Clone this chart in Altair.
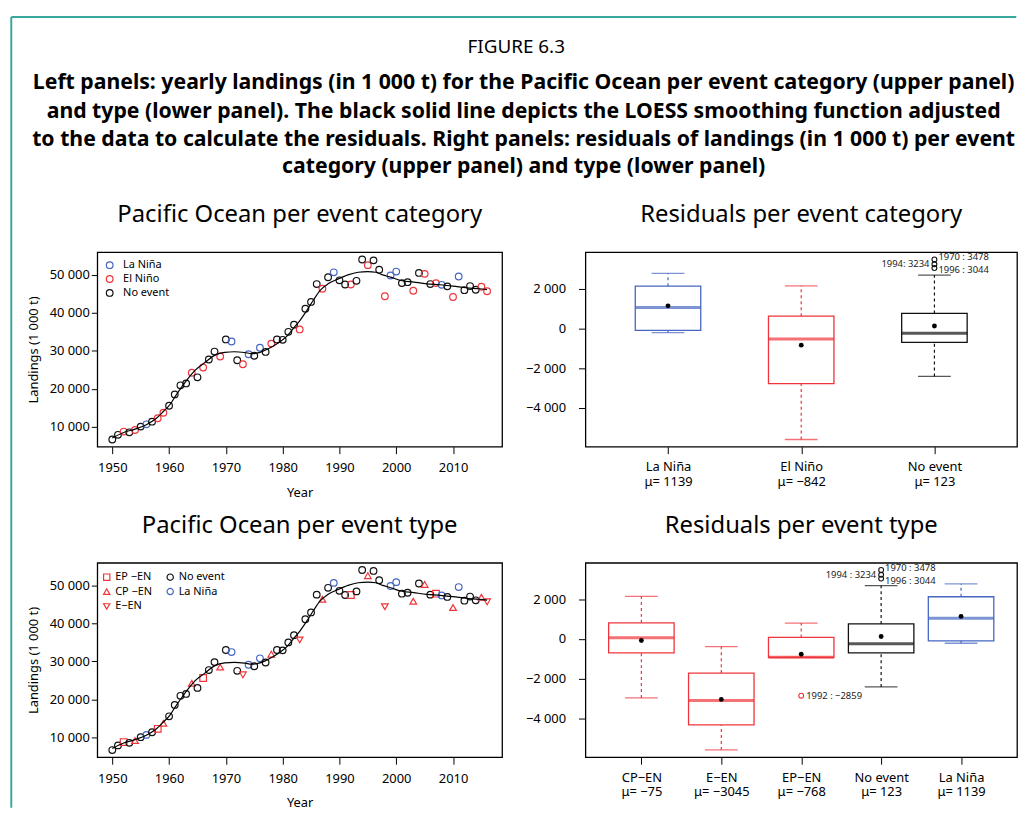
import altair as alt
import pandas as pd

FONT = "Noto Sans"
BLUE = "#4566c2"
RED = "#f0343a"
BLACK = "#111111"
TEAL = "#38a89d"

# ---------------- data ----------------
years = list(range(1950, 2017))
landings = [6600, 7830, 8700, 8500, 9100, 10000, 10600, 11300, 12200, 13650,
            15500, 18500, 20900, 21400, 24200, 23000, 25600, 27700, 29800, 28500,
            33000, 32450, 27500, 26450, 29100, 28700, 30800, 29700, 31900, 33000,
            32900, 35000, 36900, 35650, 41100, 42900, 47600, 46370, 49400, 50700,
            48600, 47500, 47500, 48460, 54100, 52600, 53860, 51400, 44400, 49870,
            50900, 47860, 48100, 45850, 50550, 50300, 47600, 47860, 47400, 47000,
            44200, 49600, 46000, 47080, 46100, 46900, 45700]

la_nina_years = [1956, 1971, 1974, 1976, 1989, 1999, 2000, 2008, 2011]
ep_en_years = [1952, 1958, 1966, 1992, 2007]
cp_en_years = [1954, 1959, 1964, 1969, 1978, 1987, 1995, 2003, 2005, 2010, 2015]
e_en_years = [1973, 1983, 1998, 2016]

loess_years = [1950, 1952, 1954, 1956, 1957.6, 1959, 1960.2, 1961.1, 1962.3, 1963.4,
               1964.6, 1966.3, 1968, 1969.8, 1971.5, 1973.3, 1974.6, 1976, 1977, 1978.2,
               1979.6, 1980.8, 1981.9, 1983.1, 1984.3, 1985.4, 1986.6, 1988, 1989.8, 1991.5,
               1993.3, 1995, 1996.4, 1997.6, 1999, 2000.8, 2003.1, 2005.4, 2007.7, 2010,
               2012.3, 2014.6, 2016]
loess_values = [7000, 8450, 9350, 10500, 12000, 14000, 15900, 18000, 20600, 22800,
                24900, 26900, 28800, 29600, 29750, 29550, 29250, 29600, 30200, 31150,
                32450, 33930, 35930, 38120, 40730, 43340, 45950, 47680, 48980, 50030,
                50730, 50900, 50730, 50030, 49430, 48560, 48120, 47680, 47420, 47080,
                46640, 46370, 46150]

# residual box statistics per event category
cat_names = ["La Niña", "El Niño", "No event"]
cat_means = [1139, -842, 123]
cat_low = [-215, -5600, -2420]
cat_q1 = [-95, -2780, -700]
cat_median = [1050, -530, -240]
cat_q3 = [2130, 620, 760]
cat_high = [2780, 2150, 2690]
cat_colors = [BLUE, RED, BLACK]

# residual box statistics per event type
type_names = ["CP−EN", "E−EN", "EP−EN", "No event", "La Niña"]
type_means = [-75, -3045, -768, 123, 1139]
type_low = [-2970, -5590, -930, -2420, -215]
type_q1 = [-700, -4335, -930, -700, -95]
type_median = [65, -3100, -920, -240, 1050]
type_q3 = [815, -1720, 80, 760, 2130]
type_high = [2150, -385, 800, 2690, 2780]
type_colors = [RED, RED, RED, BLACK, BLUE]

# outliers (group, value, label, where the label sits)
cat_out_group = ["No event", "No event", "No event"]
cat_out_value = [3478, 3234, 3044]
cat_out_text = ["1970 : 3478", "1994: 3234", "1996 : 3044"]
cat_out_side = ["up", "left", "down"]

type_out_group = ["No event", "No event", "No event", "EP−EN"]
type_out_value = [3478, 3234, 3044, -2859]
type_out_text = ["1970 : 3478", "1994 : 3234", "1996 : 3044", "1992 : −2859"]
type_out_side = ["up", "left", "down", "right"]

header_top = "FIGURE 6.3"
header_lines = [
    "Left panels: yearly landings (in 1 000 t) for the Pacific Ocean per event category (upper panel)",
    "and type (lower panel). The black solid line depicts the LOESS smoothing function adjusted",
    "to the data to calculate the residuals. Right panels: residuals of landings (in 1 000 t) per event",
    "category (upper panel) and type (lower panel)",
]

# ---------------- tables ----------------
def category_of(y):
    if y in la_nina_years:
        return "La Niña"
    if y in ep_en_years or y in cp_en_years or y in e_en_years:
        return "El Niño"
    return "No event"


def type_of(y):
    if y in la_nina_years:
        return "La Niña"
    if y in ep_en_years:
        return "EP −EN"
    if y in cp_en_years:
        return "CP −EN"
    if y in e_en_years:
        return "E−EN"
    return "No event"


df = pd.DataFrame({
    "year": years,
    "landings": landings,
    "category": [category_of(y) for y in years],
    "etype": [type_of(y) for y in years],
})
loess_df = pd.DataFrame({"year": loess_years, "landings": loess_values})

LAB = dict(labelFont=FONT, titleFont=FONT, labelColor="black", titleColor="black",
           tickColor="black", labelFontSize=13, titleFontSize=13,
           titleFontWeight="normal", grid=False, domain=False, labelOverlap=False,
           labelFlush=False)
THOUSANDS = "replace(format(datum.value, ','), ',', ' ')"
PANEL_VIEW = alt.ViewBackground(stroke="black", strokeWidth=1.3, fill="white")

x_left = alt.Scale(domain=[1947.36, 2018.64], nice=False, zero=False)
y_left = alt.Scale(domain=[4700, 56000], nice=False, zero=False)
x_left_axis = alt.Axis(values=[1950, 1960, 1970, 1980, 1990, 2000, 2010], format="d",
                       title="Year", tickSize=7, labelPadding=8, titlePadding=12, **LAB)
y_left_axis = alt.Axis(values=[10000, 20000, 30000, 40000, 50000], labelExpr=THOUSANDS,
                       title="Landings (1 000 t)", tickSize=6, labelPadding=2,
                       titlePadding=9, **LAB)


def panel_title(text):
    return alt.TitleParams(text, font=FONT, fontSize=24, fontWeight="normal",
                           color="black", anchor="middle", frame="group",
                           baseline="alphabetic", offset=6)


def left_panel(field, domain, colors, shapes, legend, title):
    enc = dict(
        x=alt.X("year:Q", scale=x_left, axis=x_left_axis),
        y=alt.Y("landings:Q", scale=y_left, axis=y_left_axis),
        color=alt.Color(f"{field}:N", scale=alt.Scale(domain=domain, range=colors),
                        legend=legend),
    )
    if shapes is not None:
        enc["shape"] = alt.Shape(f"{field}:N", scale=alt.Scale(domain=domain, range=shapes),
                                 legend=legend)
    pts = alt.Chart(df).mark_point(filled=False, size=45, strokeWidth=1.2,
                                   opacity=1).encode(**enc)
    line = alt.Chart(loess_df).mark_line(color="black", strokeWidth=1.2,
                                         interpolate="monotone").encode(
        x=alt.X("year:Q", scale=x_left, axis=x_left_axis),
        y=alt.Y("landings:Q", scale=y_left, axis=y_left_axis),
    )
    return alt.layer(pts, line).properties(width=408, height=196, title=panel_title(title),
                                           view=PANEL_VIEW)


def fmt_mean(v):
    return ("−" + str(-v)) if v < 0 else str(v)


y_right = alt.Scale(domain=[-5963, 3841], nice=False, zero=False)
y_right_axis = alt.Axis(values=[-4000, -2000, 0, 2000], labelExpr=THOUSANDS, title=None,
                        tickSize=7, labelPadding=13, **LAB)


def right_panel(names, means, low, q1, med, q3, high, colors, pad,
                out_group, out_value, out_text, out_side, title):
    labels = [f"{n}|μ= {fmt_mean(m)}" for n, m in zip(names, means)]
    lab_of = dict(zip(names, labels))
    st = pd.DataFrame({"label": labels, "mean": means, "low": low, "q1": q1,
                       "median": med, "q3": q3, "high": high})
    out = pd.DataFrame({"label": [lab_of[g] for g in out_group], "value": out_value,
                        "text": out_text, "side": out_side})
    xs = alt.Scale(type="point", domain=labels, padding=pad)
    x_axis = alt.Axis(labelExpr="split(datum.value, '|')", title=None, tickSize=7,
                      labelPadding=7, labelAngle=0, labelLineHeight=15,
                      labelBaseline="top", **LAB)
    x = alt.X("label:N", scale=xs, sort=labels, axis=x_axis)
    cs = alt.Scale(domain=labels, range=colors)
    col = alt.Color("label:N", scale=cs, legend=None)

    def Y(f):
        return alt.Y(f"{f}:Q", scale=y_right, axis=y_right_axis)

    whisk_hi = alt.Chart(st).mark_rule(strokeDash=[3, 3], strokeWidth=1.2).encode(
        x=x, y=Y("q3"), y2="high:Q", color=col)
    whisk_lo = alt.Chart(st).mark_rule(strokeDash=[3, 3], strokeWidth=1.2).encode(
        x=x, y=Y("low"), y2="q1:Q", color=col)
    box = alt.Chart(st).mark_bar(size=66, fill="white", fillOpacity=0,
                                 strokeWidth=1.3).encode(
        x=x, y=Y("q1"), y2="q3:Q", stroke=alt.Stroke("label:N", scale=cs, legend=None))
    cap_hi = alt.Chart(st).mark_tick(size=33, thickness=1.3).encode(
        x=x, y=Y("high"), color=col)
    cap_lo = alt.Chart(st).mark_tick(size=33, thickness=1.3).encode(
        x=x, y=Y("low"), color=col)
    median = alt.Chart(st).mark_tick(size=66, thickness=3).encode(
        x=x, y=Y("median"), color=col)
    mean = alt.Chart(st).mark_point(filled=True, size=24, color="black", opacity=1).encode(
        x=x, y=Y("mean"))
    opts = alt.Chart(out).mark_point(filled=False, size=24, strokeWidth=1.1,
                                     opacity=1).encode(
        x=x, y=Y("value"), color=col)
    layers = [whisk_hi, whisk_lo, box, cap_hi, cap_lo, median, mean, opts]
    for side, align, dx, dy in [("up", "left", 4, -2), ("down", "left", 4, 2),
                                ("right", "left", 5, 0), ("left", "right", -5, 0)]:
        layers.append(
            alt.Chart(out).transform_filter(f"datum.side == '{side}'").mark_text(
                align=align, baseline="middle", dx=dx, dy=dy, fontSize=9.5, font=FONT,
                color="#222").encode(x=x, y=Y("value"), text="text:N"))
    return alt.layer(*layers).properties(width=435, height=196,
                                         title=panel_title(title), view=PANEL_VIEW)


# ---------------- panels ----------------
ul_legend = alt.Legend(orient="none", legendX=7, legendY=7.5, title=None, labelFont=FONT,
                       labelFontSize=11, labelColor="black", symbolSize=45,
                       symbolStrokeWidth=1.2, rowPadding=1, labelOffset=8, padding=0)
ul = left_panel("category", ["La Niña", "El Niño", "No event"], [BLUE, RED, BLACK], None,
                ul_legend, "Pacific Ocean per event category")

ll_domain = ["EP −EN", "CP −EN", "E−EN", "No event", "La Niña"]
ll_legend = alt.Legend(orient="none", legendX=4, legendY=8.5, title=None, labelFont=FONT,
                       labelFontSize=11, labelColor="black", symbolSize=40,
                       symbolStrokeWidth=1.2, rowPadding=2, labelOffset=3, padding=0,
                       columns=2, columnPadding=11)
ll = left_panel("etype", ll_domain, [RED, RED, RED, BLACK, BLUE],
                ["square", "triangle-up", "triangle-down", "circle", "circle"],
                ll_legend, "Pacific Ocean per event type")

ur = right_panel(cat_names, cat_means, cat_low, cat_q1, cat_median, cat_q3, cat_high,
                 cat_colors, 0.62, cat_out_group, cat_out_value, cat_out_text, cat_out_side,
                 "Residuals per event category")
lr = right_panel(type_names, type_means, type_low, type_q1, type_median, type_q3, type_high,
                 type_colors, 0.7, type_out_group, type_out_value, type_out_text,
                 type_out_side, "Residuals per event type")

# ---------------- header (figure caption and frame) ----------------
one = alt.Data(values=[{"a": 1}])
header_layers = [
    alt.Chart(pd.DataFrame({"t": [header_top]})).mark_text(
        font=FONT, fontSize=19, align="center", baseline="alphabetic", color="black").encode(
        text="t:N", x=alt.value(422.3), y=alt.value(36)),
]
for line_text, yy in zip(header_lines, [72, 101.5, 129.5, 157.5]):
    header_layers.append(
        alt.Chart(pd.DataFrame({"t": [line_text]})).mark_text(
            font=FONT, fontSize=21.4, fontWeight="bold", align="center",
            baseline="alphabetic", color="black").encode(
            text="t:N", x=alt.value(429.7), y=alt.value(yy)))
header_layers.append(
    alt.Chart(one).mark_rule(color=TEAL, strokeWidth=2).encode(
        x=alt.value(-86.7), y=alt.value(0), y2=alt.value(797)))
header_layers.append(
    alt.Chart(one).mark_rule(color=TEAL, strokeWidth=2).encode(
        x=alt.value(-86.7), x2=alt.value(926.3), y=alt.value(0)))
header = alt.layer(*header_layers).properties(
    width=408, height=120, view=alt.ViewBackground(stroke="transparent"))

blank = alt.Chart(one).mark_rule(opacity=0, strokeWidth=0).encode(
    x=alt.value(5), y=alt.value(5), y2=alt.value(6)).properties(
    width=435, height=120, view=alt.ViewBackground(stroke="transparent"))

chart = alt.concat(header, blank, ul, ur, ll, lr, columns=2,
                   spacing={"row": 117, "column": 84}, bounds="flush", align="each").properties(
    padding={"left": 1, "top": 4, "right": 0, "bottom": -1},
    background="white",
).resolve_scale(
    color="independent", shape="independent", stroke="independent",
).resolve_legend(
    color="independent", shape="independent", stroke="independent",
).configure(font=FONT)

chart.save("out.html", embed_options={"renderer": "svg", "actions": False})
